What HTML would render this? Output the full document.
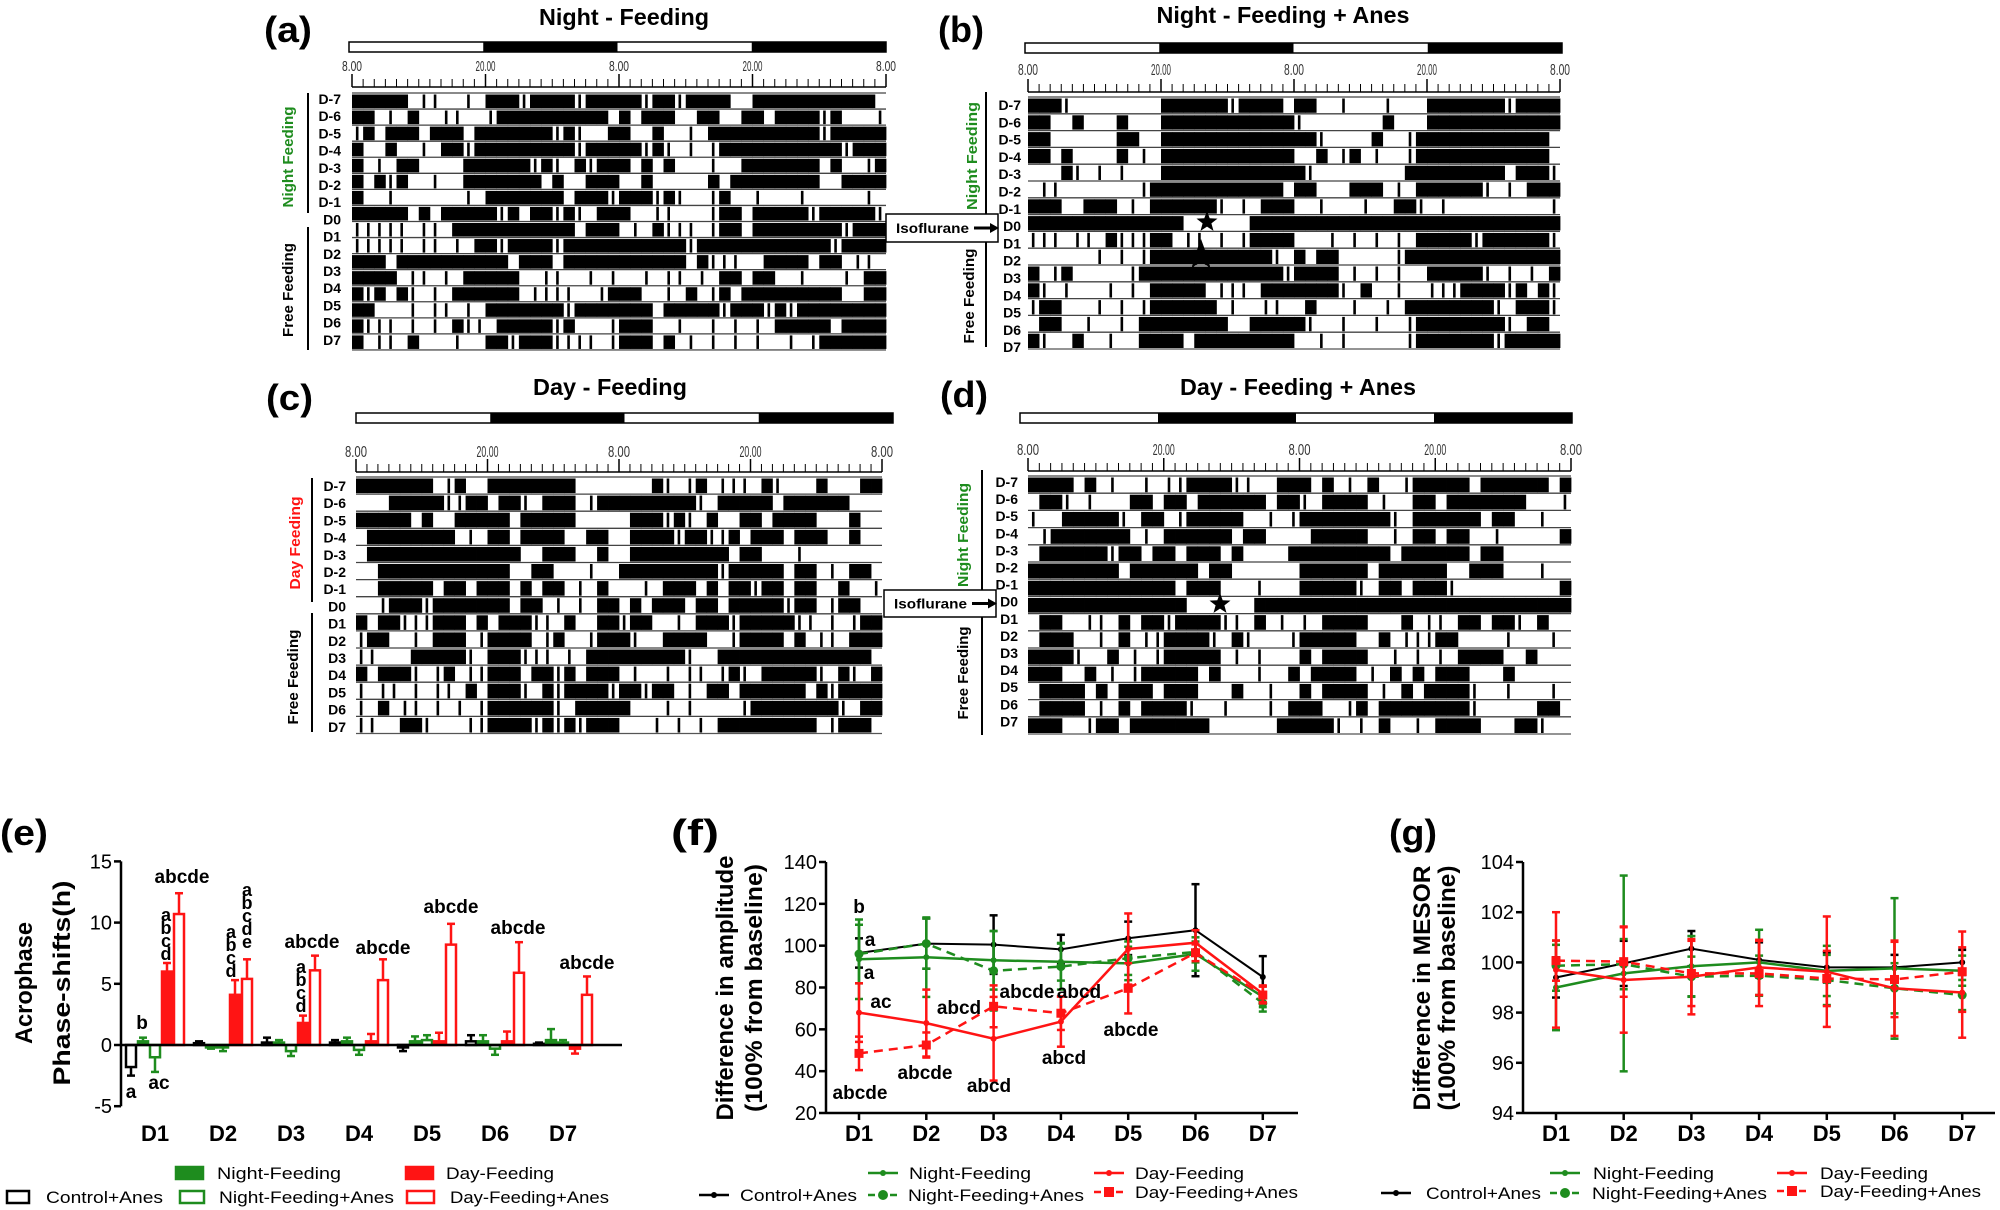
<!DOCTYPE html>
<html><head><meta charset="utf-8"><title>Actograms and rhythm parameters</title>
<style>html,body{margin:0;padding:0;background:#fff}svg{display:block}</style></head>
<body>
<svg id="fig" xmlns="http://www.w3.org/2000/svg" width="2000" height="1210" viewBox="0 0 2000 1210" font-family="'Liberation Sans', Arial, sans-serif"></svg>
<script>
// ===== DATA =====
const categories = ['D1','D2','D3','D4','D5','D6','D7'];
const rowLabels = ['D-7','D-6','D-5','D-4','D-3','D-2','D-1','D0','D1','D2','D3','D4','D5','D6','D7'];
const hourTicks = ['8.00','20.00','8.00','20.00','8.00'];
// Actogram rows: one char per hour over 48 h ('#' active, '|' brief bout, '.' rest)
const actoA = [
"#####.||..|.###|####|#####|##|####..###########.",
"##.|.#..||..|##########.#.###..##..##.####|#...|",
"|#.###.###.#######|#|..##..#..|.##########|#####",
"#..#..|.##|#########|#####|#|.|.|###########|###",
"#.|.##....######|#|.#|###.#.#...|..#######.#..|#",
"#.#|#..|..#######.#..###..#.....#.########..####",
"#..|......|.#######.###|###|#|..|#..|...|.....|.",
"#####.#.#####|#.##|#|.###..||...|##.#####|#####|",
"|||||.||.###########.###.|.#|||.|##.########|###",
"|||||.||.|.##|####|###########|############|####",
"###.##########.###.###########.#|||..####.##.||.",
"####.||.|.#####..||..|.|..|.||.|.##.##..|...|.##",
"#|#.#|.|.######.||||..|###..|.#.|#.#########..##",
"##...|.||.|.#######|#######.#####|###|#|########",
"#|||.|.|.#||.#####|#...|###..|..|.|.|.#####.####",
"#.||.#...|..##|###||||.|###.#.|.|.|.|..|.|######"
];
const actoB = [
"###|........######|####.##..|...|...#######|####",
"##..#...#...############|.......#...############",
"##......##..##############|....#..|############.",
"##.#....#.|.############..#.|#.|..|############",
"...#|.|.|...#############|........#########.###|",
".||.......|############.##...###.|.######|.|.###",
"###..###.|.######|.|.###..|...|..##|.|.........|",
"##############......############################",
"|||.||.#|||##.||.|.|####...|.|.|.|.#####|######|",
"......|.|.|###########|.#.##.....|##############",
"#.|#.....|#############|####.|.|.|..#####|.|.|.#",
"#|.|...|.|.#####.|||.#######|.#..|..|||####|#.#|",
"|##...|.|.|######.|..||..#...|..|.########|.###|",
".##..|..|.########..#####|..|..|..|########|.##",
"#|..#..|..####.#########..|.|.....|#######|#####"
];
const actoC = [
"#######.|#..########.......#|.|#.|||.#|...#...##",
"...#####||##.##|.###.|#########|.#####.######...",
"#####.#..#####.#####.....###|#|.#..##.####...#..",
".########.|.##.####..##..####|##||#.###.###..#..",
".##############..###..#..#########.##...|......",
"..############..##...|..#########|#####.##.|.##.",
"..#####.##.###.#.##.|.#...|.###.#.##|##.##..#..|",
"..|###|#######.##.|.|.##.#.###.##.#####|##.|##",
"#.##|||###.#.###||.#..##|##..|.###|#####||.|.|##",
"|##..|.###.|####.|#..|###|..####..|####.#.||.###",
"||...#####|.###|||.|.#########|..##############",
"#.###|.|#.||###.##|#.###.|..|.||.|#|.#####|.#|.#",
"|.||.|.||.#.###|.#|####|##|##.|.##.######.#|####",
"|.#.||.|.|.|######|.#####...|.|....|########|.##",
"||..##|...||####|#|#|###...|.|.|.#########.|###."
];
const actoD = [
"####.#.|..|.||####||..###.#.|.#..|#####.######.##",
".##|.|...##.##.######.##|.####.|..##.#######...|.",
"|..#####|.##.|#####..|.|########|.######.##..|.",
".|#######.|.######.##....#####..|.##.##..|.....#",
".######|##.##.###.#....#########.######.##......",
"########.######.##......######.######..###...|..",
"#############.###...|...#####|.##.###|.........#",
"##############......############################",
".##..||.#.##|####||.#.|.|.####...#.||.##.##|.#..",
".###..|.#.||####|.#|...|#####..#.|||##....|...|.",
"####|..#.|.|#####.|.|...#.####..|.|.|.####..#...",
"###..#.|.|#####.#...|..#.####.|.#.#.###...#.....",
".####.#.###.###...#..|..#.####.|.#.####|..|...|.",
".####.|.#.####|..|...|.###..|#.########|.....##",
"###..|##.#######......#####|.|.#..|.####...##|.."
];
// (e) Acrophase phase-shifts (h)
const eControl = [-1.8, 0.15, 0.2, 0.2, -0.2, 0.3, 0.1];
const eControlErr = [0.7, 0.15, 0.4, 0.2, 0.3, 0.5, 0.1];
const eNight = [0.3, -0.2, 0.2, 0.3, 0.3, 0.3, 0.4];
const eNightErr = [0.3, 0.1, 0.2, 0.3, 0.4, 0.5, 0.9];
const eNightAnes = [-1.0, -0.2, -0.5, -0.4, 0.4, -0.3, 0.2];
const eNightAnesErr = [1.2, 0.3, 0.4, 0.4, 0.4, 0.5, 0.2];
const eDay = [6.0, 4.1, 1.8, 0.3, 0.3, 0.3, -0.3];
const eDayErr = [0.7, 1.2, 0.6, 0.6, 0.7, 0.8, 0.4];
const eDayAnes = [10.7, 5.4, 6.1, 5.3, 8.2, 5.9, 4.1];
const eDayAnesErr = [1.7, 1.6, 1.2, 1.7, 1.7, 2.5, 1.5];
const eTicks = [-5, 0, 5, 10, 15];
// (f) amplitude
const fControl = [96.5, 101, 100.5, 98.2, 103.5, 107.4, 85];
const fControlErr = [7, 12, 14, 7, 8, 22, 10];
const fNight = [93.5, 94.5, 93, 92.3, 91.5, 96, 75.6];
const fNightErr = [19, 19, 14, 9, 8, 8, 5];
const fNightAnes = [96, 101, 88, 90, 94, 97, 72.5];
const fNightAnesErr = [14, 12, 19, 11, 8, 5, 4];
const fDay = [68, 63, 55.5, 63.7, 98.4, 101.4, 77];
const fDayErr = [14, 16, 20, 12, 17, 6, 4];
const fDayAnes = [48.5, 52.5, 71, 67.7, 79.6, 96.6, 76.4];
const fDayAnesErr = [8, 6, 10, 8, 12, 4, 4];
const fTicks = [20, 40, 60, 80, 100, 120, 140];
// (g) MESOR
const gControl = [99.4, 99.96, 100.55, 100.1, 99.8, 99.8, 100];
const gControlErr = [0.8, 0.9, 0.7, 0.7, 0.6, 0.5, 0.5];
const gNight = [99.0, 99.56, 99.85, 100, 99.66, 99.76, 99.67];
const gNightErr = [1.7, 3.9, 1.2, 1.3, 1.0, 2.8, 0.6];
const gNightAnes = [99.87, 99.93, 99.43, 99.47, 99.3, 98.97, 98.7];
const gNightAnesErr = [1.0, 1.0, 0.8, 0.8, 1.0, 1.0, 0.6];
const gDay = [99.7, 99.3, 99.43, 99.8, 99.63, 98.97, 98.8];
const gDayErr = [2.3, 2.1, 1.5, 1.1, 2.2, 1.9, 1.8];
const gDayAnes = [100.07, 100.03, 99.56, 99.56, 99.36, 99.32, 99.63];
const gDayAnesErr = [0.8, 1.4, 1.3, 1.3, 1.1, 1.5, 1.6];
const gTicks = [94, 96, 98, 100, 102, 104];

// ===== HELPERS =====
const NS = 'http://www.w3.org/2000/svg';
const svg = document.getElementById('fig');
const GREEN = '#1e8c1e', RED = '#ff1414';
function mk(tag, attrs, name, parent) {
  const e = document.createElementNS(NS, tag);
  for (const k in attrs) e.setAttribute(k, attrs[k]);
  
  
  (parent || svg).appendChild(e);
  return e;
}
function T(x, y, s, size, name, o) {
  o = o || {};
  const a = { x: x, y: y, 'font-size': size, 'font-weight': o.w || 'bold', fill: o.fill || '#000', 'text-anchor': o.anchor || 'start' };
  if (o.len) { a.textLength = o.len; a.lengthAdjust = 'spacingAndGlyphs'; }
  if (o.rot) { a.transform = 'rotate(-90 ' + x + ' ' + y + ')'; }
  const t = mk('text', a, name, o.parent);
  t.textContent = s;
  return t;
}
function star(cx, cy, r, name) {
  let pts = [];
  for (let i = 0; i < 10; i++) {
    const rr = i % 2 ? r * 0.42 : r;
    const ang = -Math.PI / 2 + i * Math.PI / 5;
    pts.push((cx + rr * Math.cos(ang)).toFixed(1) + ',' + (cy + rr * Math.sin(ang)).toFixed(1));
  }
  mk('polygon', { points: pts.join(' '), fill: '#000' }, name);
}

// ===== ACTOGRAMS =====
function actogram(p, rows, key) {
  const g = mk('g', {}, 'actogram-' + key);
  const hw = (p.x1 - p.x0) / 48;
  mk('rect', { x: p.bx0, y: p.by, width: p.bx1 - p.bx0, height: 10, fill: '#fff', stroke: '#000', 'stroke-width': 1.5 }, 'light-dark-bar', g);
  const bw = (p.bx1 - p.bx0) / 4;
  mk('rect', { x: p.bx0 + bw, y: p.by, width: bw, height: 10, fill: '#000' }, 'dark-phase', g);
  mk('rect', { x: p.bx0 + 3 * bw, y: p.by, width: bw, height: 10, fill: '#000' }, 'dark-phase', g);
  mk('line', { x1: p.x0, y1: p.rl, x2: p.x1, y2: p.rl, stroke: '#000', 'stroke-width': 1.5 }, 'time-axis', g);
  for (let h = 0; h <= 48; h++) {
    const x = p.x0 + h * hw;
    const major = h % 12 === 0;
    mk('line', { x1: x, y1: major ? p.rl - 13 : p.rl - 8, x2: x, y2: p.rl, stroke: '#000', 'stroke-width': major ? 1.5 : 1 }, 'time-tick', g);
  }
  hourTicks.forEach((s, i) => {
    T(p.x0 + i * 12 * hw, p.tl, s, p.tfs, 'time-tick-label', { w: 'normal', anchor: 'middle', len: p.tlen, parent: g, fill: '#333' });
  });
  rows.forEach((r, i) => {
    const y = p.top + i * p.pitch;
    const rg = mk('g', {}, 'activity-row-' + i, g);
    mk('line', { x1: p.x0, y1: y, x2: p.x1, y2: y, stroke: '#444', 'stroke-width': 1.3 }, 'row-baseline', rg);
    for (let h = 0; h < 48 && h < r.length; h++) {
      const c = r[h];
      if (c === '#') mk('rect', { x: p.x0 + h * hw, y: y + 1.5, width: hw + 0.4, height: p.pitch - 2.5, fill: '#000' }, 'activity-bout', rg);
      else if (c === '|') mk('rect', { x: p.x0 + h * hw + hw * 0.35, y: y + 1.5, width: 2.6, height: p.pitch - 2.5, fill: '#000' }, 'activity-bout', rg);
    }
  });
  mk('line', { x1: p.x0, y1: p.top + rows.length * p.pitch, x2: p.x1, y2: p.top + rows.length * p.pitch, stroke: '#555', 'stroke-width': 1.3 }, 'row-baseline', g);
  rowLabels.forEach((s, i) => {
    T(p.lx, p.ly + i * p.lp + 5, s, 14, 'day-label', { anchor: 'end', parent: g });
  });
}
actogram({ x0: 352, x1: 886, bx0: 349, bx1: 886, by: 42, tl: 71, tfs: 15, tlen: 20, rl: 87, top: 93, pitch: 16.06, lx: 341, ly: 99, lp: 17.2 }, actoA, 'a');
actogram({ x0: 1028, x1: 1560, bx0: 1025, bx1: 1562, by: 43, tl: 75, tfs: 16, tlen: 20, rl: 92, top: 97, pitch: 16.8, lx: 1021, ly: 105, lp: 17.3 }, actoB, 'b');
actogram({ x0: 356, x1: 882, bx0: 356, bx1: 893, by: 413, tl: 457, tfs: 16, tlen: 22, rl: 472, top: 477, pitch: 17.1, lx: 346, ly: 486, lp: 17.2 }, actoC, 'c');
actogram({ x0: 1028, x1: 1571, bx0: 1020, bx1: 1572, by: 413, tl: 455, tfs: 16, tlen: 22, rl: 471, top: 476, pitch: 17.2, lx: 1018, ly: 482, lp: 17.1 }, actoD, 'd');

T(264, 42, '(a)', 36, 'panel-label-a', { len: 48 });
T(938, 42, '(b)', 36, 'panel-label-b', { len: 46 });
T(266, 410, '(c)', 36, 'panel-label-c', { len: 47 });
T(940, 407, '(d)', 36, 'panel-label-d', { len: 48 });
T(624, 25, 'Night - Feeding', 23, 'title-a', { anchor: 'middle', len: 170 });
T(1283, 23, 'Night - Feeding + Anes', 23, 'title-b', { anchor: 'middle', len: 253 });
T(610, 395, 'Day - Feeding', 23, 'title-c', { anchor: 'middle', len: 154 });
T(1298, 395, 'Day - Feeding + Anes', 23, 'title-d', { anchor: 'middle', len: 236 });
T(293, 157, 'Night Feeding', 15, 'phase-label-night', { anchor: 'middle', rot: 1, fill: GREEN, len: 101 });
T(293, 290, 'Free Feeding', 15, 'phase-label-free', { anchor: 'middle', rot: 1, len: 94 });
T(977, 156, 'Night Feeding', 15, 'phase-label-night', { anchor: 'middle', rot: 1, fill: GREEN, len: 108 });
T(974, 296, 'Free Feeding', 15, 'phase-label-free', { anchor: 'middle', rot: 1, len: 95 });
T(300, 543, 'Day  Feeding', 15, 'phase-label-day', { anchor: 'middle', rot: 1, fill: RED, len: 93 });
T(298, 677, 'Free Feeding', 15, 'phase-label-free', { anchor: 'middle', rot: 1, len: 95 });
T(968, 535, 'Night Feeding', 15, 'phase-label-night', { anchor: 'middle', rot: 1, fill: GREEN, len: 104 });
T(968, 673, 'Free Feeding', 15, 'phase-label-free', { anchor: 'middle', rot: 1, len: 93 });
[[308, 93, 213], [308, 227, 350], [986, 92, 214], [986, 233, 347], [312, 478, 602], [312, 613, 732], [982, 470, 600], [982, 610, 735]].forEach(l => {
  mk('line', { x1: l[0], y1: l[1], x2: l[0], y2: l[2], stroke: '#000', 'stroke-width': 2 }, 'phase-bracket');
});
function iso(x0, x1, y0, y1, name) {
  mk('rect', { x: x0, y: y0, width: x1 - x0, height: y1 - y0, fill: '#fff', stroke: '#000', 'stroke-width': 1.5 }, name + '-box');
  T(x0 + 10, (y0 + y1) / 2 + 5, 'Isoflurane', 14, name + '-text', { len: 73 });
  const ym = (y0 + y1) / 2;
  mk('line', { x1: x0 + 88, y1: ym, x2: x1 - 4, y2: ym, stroke: '#000', 'stroke-width': 3 }, name + '-arrow');
  mk('polygon', { points: (x1 - 8) + ',' + (ym - 5) + ' ' + (x1 + 1) + ',' + ym + ' ' + (x1 - 8) + ',' + (ym + 5), fill: '#000' }, name + '-arrowhead');
}
iso(886, 998, 214, 242, 'isoflurane-b');
iso(884, 996, 590, 617, 'isoflurane-d');
star(1207, 222, 11, 'anesthesia-star-b');
star(1201, 255, 16, 'anesthesia-marker-b');
star(1220, 604, 11, 'anesthesia-star-d');

// ===== (e) BAR CHART =====
const eX0 = 155, eDX = 68, eY0 = 1045, eK = 12.24;
const ey = v => eY0 - v * eK;
const ex = i => eX0 + i * eDX;
T(0, 845, '(e)', 36, 'panel-label-e', { len: 48 });
mk('line', { x1: 121, y1: ey(15), x2: 121, y2: ey(-5), stroke: '#000', 'stroke-width': 2.5 }, 'e-y-axis');
eTicks.forEach(v => {
  mk('line', { x1: 114, y1: ey(v), x2: 121, y2: ey(v), stroke: '#000', 'stroke-width': 2.5 }, 'e-y-tick');
  T(112, ey(v) + 7, String(v), 20, 'e-y-tick-label', { w: 'normal', anchor: 'end' });
});
T(32, 983, 'Acrophase', 24, 'e-y-axis-title', { anchor: 'middle', rot: 1, len: 122 });
T(70, 983, 'Phase-shifts(h)', 24, 'e-y-axis-title', { anchor: 'middle', rot: 1, len: 205 });
const eSeries = [
  [eControl, eControlErr, '#000', false, 'control-anes'],
  [eNight, eNightErr, GREEN, true, 'night-feeding'],
  [eNightAnes, eNightAnesErr, GREEN, false, 'night-feeding-anes'],
  [eDay, eDayErr, RED, true, 'day-feeding'],
  [eDayAnes, eDayAnesErr, RED, false, 'day-feeding-anes']
];
eSeries.forEach((s, si) => {
  const off = (si - 2) * 12;
  s[0].forEach((v, i) => {
    const cx = ex(i) + off, w = 10;
    const top = Math.min(ey(0), ey(v)), h = Math.abs(ey(v) - ey(0));
    const er = v + Math.sign(v || 1) * s[1][i];
    mk('line', { x1: cx, y1: ey(v), x2: cx, y2: ey(er), stroke: s[2], 'stroke-width': 2.5 }, 'e-error-bar-' + s[4]);
    mk('line', { x1: cx - 4, y1: ey(er), x2: cx + 4, y2: ey(er), stroke: s[2], 'stroke-width': 2.5 }, 'e-error-cap-' + s[4]);
    mk('rect', { x: cx - w / 2, y: top, width: w, height: Math.max(h, 1), fill: s[3] ? s[2] : '#fff', stroke: s[2], 'stroke-width': 2.5 }, 'e-bar-' + s[4] + '-' + categories[i]);
  });
});
mk('line', { x1: 121, y1: ey(0), x2: 622, y2: ey(0), stroke: '#000', 'stroke-width': 2.5 }, 'e-x-axis');
categories.forEach((c, i) => T(ex(i), 1141, c, 22, 'e-x-tick-label', { anchor: 'middle' }));
[[182, 883, 'abcde'], [142, 1029, 'b'], [131, 1098, 'a'], [159, 1089, 'ac'], [312, 948, 'abcde'], [383, 954, 'abcde'], [451, 913, 'abcde'], [518, 934, 'abcde'], [587, 969, 'abcde']].forEach(a => {
  T(a[0], a[1], a[2], 19, 'e-significance-label', { anchor: 'middle' });
});
function stack(x, y, letters) { letters.split('').forEach((l, i) => T(x, y + i * 13 + 6, l, 18, 'e-significance-letter', { anchor: 'middle' })); }
stack(166, 915, 'abcd'); stack(247, 890, 'abcde'); stack(231, 932, 'abcd'); stack(301, 967, 'abcd');
function swatch(x, y, w, color, filled, name) {
  mk('rect', { x: x, y: y - 6, width: w, height: 12, fill: filled ? color : '#fff', stroke: color, 'stroke-width': 2.5 }, name);
}
swatch(176, 1173, 27, GREEN, true, 'legend-swatch-night-feeding'); T(217, 1179, 'Night-Feeding', 17, 'legend-label', { w: 'normal', len: 124 });
swatch(406, 1173, 27, RED, true, 'legend-swatch-day-feeding'); T(446, 1179, 'Day-Feeding', 17, 'legend-label', { w: 'normal', len: 108 });
swatch(7, 1197, 22, '#000', false, 'legend-swatch-control-anes'); T(46, 1203, 'Control+Anes', 17, 'legend-label', { w: 'normal', len: 117 });
swatch(180, 1197, 24, GREEN, false, 'legend-swatch-night-feeding-anes'); T(219, 1203, 'Night-Feeding+Anes', 17, 'legend-label', { w: 'normal', len: 175 });
swatch(407, 1197, 27, RED, false, 'legend-swatch-day-feeding-anes'); T(450, 1203, 'Day-Feeding+Anes', 17, 'legend-label', { w: 'normal', len: 159 });

// ===== LINE CHARTS =====
function lineChart(c) {
  const g = mk('g', {}, c.key + '-chart');
  const yv = v => c.yb - (v - c.ymin) * c.k;
  const xv = i => c.x0 + i * c.dx;
  T(c.plx, 845, c.plabel, 36, 'panel-label-' + c.key, { len: 48 });
  mk('line', { x1: c.ax, y1: yv(c.ticks[c.ticks.length - 1]), x2: c.ax, y2: c.yb, stroke: '#000', 'stroke-width': 2.5 }, c.key + '-y-axis', g);
  mk('line', { x1: c.ax, y1: c.yb, x2: c.axEnd, y2: c.yb, stroke: '#000', 'stroke-width': 2.5 }, c.key + '-x-axis', g);
  c.ticks.forEach(v => {
    mk('line', { x1: c.ax - 7, y1: yv(v), x2: c.ax, y2: yv(v), stroke: '#000', 'stroke-width': 2.5 }, c.key + '-y-tick', g);
    T(c.ax - 9, yv(v) + 7, String(v), 20, c.key + '-y-tick-label', { w: 'normal', anchor: 'end', parent: g });
  });
  categories.forEach((cat, i) => {
    mk('line', { x1: xv(i), y1: c.yb, x2: xv(i), y2: c.yb + 7, stroke: '#000', 'stroke-width': 2.5 }, c.key + '-x-tick', g);
    T(xv(i), 1141, cat, 22, c.key + '-x-tick-label', { anchor: 'middle', parent: g });
  });
  T(c.t1x, 988, c.t1, 24, c.key + '-y-axis-title', { anchor: 'middle', rot: 1, len: c.t1len, parent: g });
  T(c.t2x, 988, '(100% from baseline)', 24, c.key + '-y-axis-title', { anchor: 'middle', rot: 1, len: c.t2len, parent: g });
  c.series.forEach(s => {
    const sg = mk('g', {}, c.key + '-series-' + s.name, g);
    s.vals.forEach((v, i) => {
      const x = xv(i);
      mk('line', { x1: x, y1: yv(v - s.err[i]), x2: x, y2: yv(v + s.err[i]), stroke: s.color, 'stroke-width': 2.5 }, 'error-bar', sg);
      [v - s.err[i], v + s.err[i]].forEach(e => mk('line', { x1: x - 4, y1: yv(e), x2: x + 4, y2: yv(e), stroke: s.color, 'stroke-width': 2.5 }, 'error-cap', sg));
    });
    const d = s.vals.map((v, i) => (i ? 'L' : 'M') + xv(i).toFixed(1) + ' ' + yv(v).toFixed(1)).join(' ');
    const a = { d: d, fill: 'none', stroke: s.color, 'stroke-width': s.name === 'control-anes' ? 2 : 2.5 };
    if (s.dash) a['stroke-dasharray'] = '9 6';
    mk('path', a, 'series-line', sg);
    s.vals.forEach((v, i) => {
      if (s.marker === 'sq') mk('rect', { x: xv(i) - 4.5, y: yv(v) - 4.5, width: 9, height: 9, fill: s.color }, 'data-point', sg);
      else mk('circle', { cx: xv(i), cy: yv(v), r: s.marker === 'big' ? 4.5 : 3, fill: s.color }, 'data-point', sg);
    });
  });
  c.legend.forEach(l => {
    const s = c.series[l[0]];
    const a = { x1: l[1], y1: l[2], x2: l[1] + 30, y2: l[2], stroke: s.color, 'stroke-width': 2.5 };
    if (s.dash) a['stroke-dasharray'] = '7 4';
    mk('line', a, 'legend-line-' + s.name, g);
    if (s.marker === 'sq') mk('rect', { x: l[1] + 10, y: l[2] - 5, width: 10, height: 10, fill: s.color }, 'legend-marker', g);
    else mk('circle', { cx: l[1] + 15, cy: l[2], r: s.marker === 'big' ? 5 : 3, fill: s.color }, 'legend-marker', g);
    T(l[3], l[2] + 6, l[4], 17, 'legend-label', { w: 'normal', len: l[5], parent: g });
  });
}
lineChart({
  key: 'f', plabel: '(f)', plx: 671, ax: 826, axEnd: 1298, yb: 1113, ymin: 20, k: 251 / 120, x0: 859, dx: 67.3, ticks: fTicks,
  t1: 'Difference in amplitude', t1x: 733, t1len: 265, t2x: 762, t2len: 248,
  series: [
    { name: 'control-anes', vals: fControl, err: fControlErr, color: '#000', dash: false, marker: 'dot' },
    { name: 'night-feeding', vals: fNight, err: fNightErr, color: GREEN, dash: false, marker: 'dot' },
    { name: 'night-feeding-anes', vals: fNightAnes, err: fNightAnesErr, color: GREEN, dash: true, marker: 'big' },
    { name: 'day-feeding', vals: fDay, err: fDayErr, color: RED, dash: false, marker: 'dot' },
    { name: 'day-feeding-anes', vals: fDayAnes, err: fDayAnesErr, color: RED, dash: true, marker: 'sq' }
  ],
  legend: [[1, 868, 1173, 909, 'Night-Feeding', 122], [3, 1094, 1173, 1135, 'Day-Feeding', 109], [0, 699, 1195, 740, 'Control+Anes', 117], [2, 868, 1195, 908, 'Night-Feeding+Anes', 176], [4, 1094, 1192, 1135, 'Day-Feeding+Anes', 163]]
});
lineChart({
  key: 'g', plabel: '(g)', plx: 1389, ax: 1523, axEnd: 1995, yb: 1113, ymin: 94, k: 25.1, x0: 1556, dx: 67.7, ticks: gTicks,
  t1: 'Difference in MESOR', t1x: 1430, t1len: 245, t2x: 1455, t2len: 245,
  series: [
    { name: 'control-anes', vals: gControl, err: gControlErr, color: '#000', dash: false, marker: 'dot' },
    { name: 'night-feeding', vals: gNight, err: gNightErr, color: GREEN, dash: false, marker: 'dot' },
    { name: 'night-feeding-anes', vals: gNightAnes, err: gNightAnesErr, color: GREEN, dash: true, marker: 'big' },
    { name: 'day-feeding', vals: gDay, err: gDayErr, color: RED, dash: false, marker: 'dot' },
    { name: 'day-feeding-anes', vals: gDayAnes, err: gDayAnesErr, color: RED, dash: true, marker: 'sq' }
  ],
  legend: [[1, 1550, 1173, 1593, 'Night-Feeding', 121], [3, 1777, 1173, 1820, 'Day-Feeding', 108], [0, 1381, 1193, 1426, 'Control+Anes', 115], [2, 1550, 1193, 1592, 'Night-Feeding+Anes', 175], [4, 1777, 1191, 1820, 'Day-Feeding+Anes', 161]]
});
[[859, 913, 'b'], [870, 946, 'a'], [869, 979, 'a'], [881, 1008, 'ac'], [959, 1014, 'abcd'], [860, 1099, 'abcde'], [925, 1079, 'abcde'], [989, 1092, 'abcd'], [1027, 998, 'abcde'], [1079, 998, 'abcd'], [1064, 1064, 'abcd'], [1131, 1036, 'abcde']].forEach(a => {
  T(a[0], a[1], a[2], 19, 'f-significance-label', { anchor: 'middle' });
});
</script>
</body></html>
